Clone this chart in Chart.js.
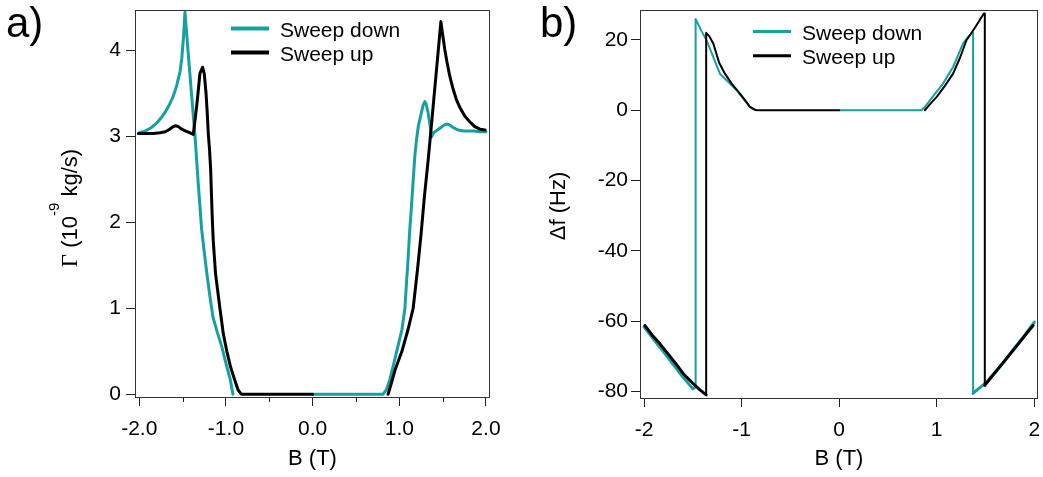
<!DOCTYPE html>
<html>
<head>
<meta charset="utf-8">
<script src="https://cdn.jsdelivr.net/npm/chart.js@4.4.0/dist/chart.umd.min.js"></script>
<style>
  body { margin: 0; background: #fff; }
  #wrap { position: relative; width: 1043px; height: 477px; }
  canvas { position: absolute; top: 0; }
  #chartA { left: 0; }
  #chartB { left: 520px; }
</style>
</head>
<body>
<div id="wrap">
  <canvas id="chartA" width="520" height="477"></canvas>
  <canvas id="chartB" width="523" height="477"></canvas>
</div>
<script>
// Panel a: damping Γ (10^-9 kg/s) against field B (T)
const gammaDownB = [2.00, 1.93, 1.86, 1.80, 1.74, 1.68, 1.62, 1.58, 1.553, 1.52, 1.48, 1.44, 1.41, 1.39, 1.372, 1.355, 1.333, 1.31, 1.295, 1.275,
  1.25, 1.22, 1.20, 1.18, 1.16, 1.14, 1.12, 1.10, 1.08, 1.065, 1.03, 0.97, 0.93, 0.89, 0.85, 0.81, 0.40, 0.00, -0.45,
  -0.92, -0.95, -1.00, -1.05, -1.10, -1.15, -1.18, -1.22, -1.25, -1.28, -1.32, -1.357, -1.40, -1.44, -1.473, -1.49, -1.51,
  -1.53, -1.57, -1.61, -1.65, -1.70, -1.75, -1.80, -1.86, -1.93, -2.00];
const gammaDown = [3.05, 3.05, 3.06, 3.06, 3.06, 3.07, 3.10, 3.13, 3.14, 3.13, 3.10, 3.07, 3.05, 3.03, 2.99, 3.12, 3.27, 3.37, 3.40, 3.36,
  3.25, 3.12, 2.97, 2.78, 2.48, 2.18, 1.90, 1.55, 1.25, 1.00, 0.75, 0.50, 0.33, 0.17, 0.05, 0.00, 0.00, 0.00, null,
  0.00, 0.17, 0.36, 0.56, 0.72, 0.90, 1.10, 1.40, 1.65, 1.91, 2.45, 3.00, 3.52, 4.02, 4.44, 4.15, 3.90,
  3.75, 3.58, 3.46, 3.37, 3.28, 3.21, 3.15, 3.10, 3.06, 3.04];

const gammaUpB = [-2.01, -1.92, -1.84, -1.76, -1.70, -1.65, -1.61, -1.58, -1.55, -1.51, -1.47, -1.42, -1.377, -1.355, -1.33, -1.30, -1.27,
  -1.25, -1.23, -1.215, -1.204, -1.19, -1.177, -1.16, -1.147, -1.12, -1.07, -1.03, -0.99, -0.95, -0.90, -0.86, -0.82, -0.40, 0.00,
  0.45, 0.87, 0.90, 0.95, 1.03, 1.10, 1.16, 1.21, 1.25, 1.29, 1.333, 1.37, 1.41, 1.45, 1.48, 1.50, 1.526, 1.55, 1.584, 1.62,
  1.66, 1.70, 1.757, 1.81, 1.87, 1.93, 1.99];
const gammaUp = [3.03, 3.03, 3.03, 3.04, 3.05, 3.08, 3.11, 3.12, 3.11, 3.08, 3.06, 3.04, 3.02, 3.20, 3.42, 3.73, 3.80,
  3.72, 3.50, 3.25, 3.03, 2.85, 2.62, 2.10, 1.79, 1.40, 1.00, 0.70, 0.50, 0.33, 0.17, 0.05, 0.00, 0.00, 0.00,
  null, 0.00, 0.10, 0.28, 0.50, 0.75, 1.00, 1.45, 1.85, 2.30, 2.72, 3.12, 3.56, 4.00, 4.33, 4.18, 4.00, 3.86, 3.69, 3.55,
  3.42, 3.33, 3.23, 3.17, 3.11, 3.08, 3.07];

// Panel b: frequency shift Δf (Hz) against field B (T)
const shiftDownB = [2.00, 1.90, 1.80, 1.68, 1.60, 1.51, 1.45, 1.40, 1.373, 1.373, 1.35, 1.31, 1.27, 1.22, 1.168, 1.10, 1.066, 1.00,
  0.93, 0.88, 0.844, 0.40, 0.00, -0.40, -0.846, -0.88, -0.915, -0.98, -1.05, -1.13, -1.222, -1.274, -1.32, -1.359, -1.41,
  -1.471, -1.471, -1.50, -1.55, -1.60, -1.70, -1.80, -1.90, -2.00];
const shiftDown = [-60.2, -64.0, -67.5, -71.8, -74.5, -77.3, -78.7, -79.8, -80.5, 22.0, 21.7, 20.4, 19.0, 15.7, 12.3, 9.2, 7.6, 5.3,
  2.8, 1.0, 0.0, 0.0, 0.0, null, 0.0, 0.3, 0.94, 3.2, 5.7, 7.9, 10.4, 14.0, 17.2, 19.9, 22.5,
  25.9, -78.6, -79.2, -77.5, -75.9, -72.3, -68.7, -65.2, -61.6];

const shiftUpB = [-1.99, -1.92, -1.837, -1.75, -1.67, -1.598, -1.50, -1.43, -1.363, -1.363, -1.33, -1.29, -1.23, -1.171, -1.10, -1.017,
  -0.95, -0.915, -0.86, -0.81, -0.40, 0.00, 0.40, 0.878, 0.95, 1.00, 1.08, 1.168, 1.24, 1.305, 1.40, 1.483, 1.493, 1.493,
  1.55, 1.65, 1.75, 1.85, 1.92, 1.988];
const shiftUp = [-61.2, -63.8, -66.4, -69.4, -72.2, -74.9, -77.6, -79.4, -80.9, 22.0, 21.0, 19.0, 13.5, 10.4, 7.5, 4.75,
  2.3, 0.94, 0.1, 0.0, 0.0, 0.0, null, 0.0, 2.3, 3.8, 6.8, 10.4, 15.0, 19.9, 23.8, 27.5, 27.5, -78.2,
  -76.2, -72.8, -69.4, -66.0, -63.5, -61.2];

// Tick values
const fieldTicksA = [-2, -1, 0, 1, 2];
const fieldMinorA = [-1.5, -0.5, 0.5, 1.5];
const gammaTicks = [0, 1, 2, 3, 4];
const fieldTicksB = [-2, -1, 0, 1, 2];
const shiftTicks = [-80, -60, -40, -20, 0, 20];

const FONT = '"Liberation Sans", Arial, Helvetica, sans-serif';
const TEAL = '#17a0a0';

const points = (xs, ys) => xs.map((x, i) => ({ x: x, y: ys[i] }));

// Frame, minor ticks, legend, axis titles and panel letter
const decorations = {
  id: 'decorations',
  afterDraw(chart, args, opts) {
    const ctx = chart.ctx;
    const area = chart.chartArea;
    const xScale = chart.scales.x;
    ctx.save();

    ctx.strokeStyle = '#333';
    ctx.lineWidth = 1;
    ctx.strokeRect(area.left - 0.5, area.top + 0.5, area.right - area.left + 1, area.bottom - area.top);

    ctx.strokeStyle = '#222';
    (opts.minorTicks || []).forEach((v) => {
      const px = Math.round(xScale.getPixelForValue(v)) + 0.5;
      ctx.beginPath();
      ctx.moveTo(px, area.bottom);
      ctx.lineTo(px, area.bottom + 5);
      ctx.stroke();
    });

    // legend
    const lg = opts.legend;
    ctx.textBaseline = 'alphabetic';
    chart.data.datasets.forEach((ds, i) => {
      const y = lg.y + i * lg.dy;
      ctx.strokeStyle = ds.borderColor;
      ctx.lineWidth = lg.lineWidth;
      ctx.beginPath();
      ctx.moveTo(lg.x, y);
      ctx.lineTo(lg.x + lg.len, y);
      ctx.stroke();
      ctx.fillStyle = '#000';
      ctx.font = '21px ' + FONT;
      ctx.fillText(ds.label, lg.textX, y + 8);
    });

    // panel letter
    ctx.font = '42px ' + FONT;
    ctx.fillText(opts.panel.text, opts.panel.x, opts.panel.y);

    // x title
    ctx.font = '22px ' + FONT;
    ctx.textAlign = 'center';
    ctx.fillText(opts.xTitle, (area.left + area.right) / 2, 465);
    ctx.textAlign = 'left';

    // y title, rotated, with optional superscript pieces
    const yt = opts.yTitle;
    ctx.translate(yt.x, yt.y);
    ctx.rotate(-Math.PI / 2);
    let total = 0;
    yt.parts.forEach((p) => { ctx.font = p.font; total += ctx.measureText(p.text).width; });
    let pos = -total / 2;
    yt.parts.forEach((p) => {
      ctx.font = p.font;
      ctx.fillText(p.text, pos, -(p.rise || 0));
      pos += ctx.measureText(p.text).width;
    });
    ctx.restore();
  }
};

function xAxis(min, max, ticks, height, fmt) {
  return {
    type: 'linear',
    min: min,
    max: max,
    afterBuildTicks: (s) => { s.ticks = ticks.map((v) => ({ value: v })); },
    afterFit: (s) => { s.height = height; s.paddingLeft = 0; s.paddingRight = 0; },
    border: { display: false },
    grid: { drawOnChartArea: false, tickLength: 9, color: '#222' },
    ticks: { color: '#000', font: { family: FONT, size: 21 }, padding: 11, maxRotation: 0, autoSkip: false, callback: fmt },
  };
}

function yAxis(min, max, ticks, width, pad) {
  return {
    type: 'linear',
    min: min,
    max: max,
    afterBuildTicks: (s) => { s.ticks = ticks.map((v) => ({ value: v })); },
    afterFit: (s) => { s.width = width; s.paddingTop = 0; s.paddingBottom = 0; },
    border: { display: false },
    grid: { drawOnChartArea: false, tickLength: 10, color: '#222' },
    ticks: { color: '#000', font: { family: FONT, size: 21 }, padding: pad, autoSkip: false, callback: (v) => String(v) },
  };
}

function line(label, xs, ys, color, width, order) {
  return {
    label: label,
    data: points(xs, ys),
    borderColor: color,
    backgroundColor: color,
    borderWidth: width,
    pointRadius: 0,
    tension: 0,
    spanGaps: false,
    borderJoinStyle: 'round',
    borderCapStyle: 'round',
    order: order,
  };
}

// in panel b the low-lying branches are drawn a bit heavier
const heavyLow = (ctx) => (ctx.p0.parsed.y < -50 && ctx.p1.parsed.y < -50 ? 3 : 2);

const downB = line('Sweep down', shiftDownB, shiftDown, TEAL, 2, 1);
const upB = line('Sweep up', shiftUpB, shiftUp, '#000', 2, 0);
downB.segment = { borderWidth: heavyLow };
upB.segment = { borderWidth: heavyLow };

new Chart(document.getElementById('chartA'), {
  type: 'line',
  plugins: [decorations],
  data: {
    datasets: [
      line('Sweep down', gammaDownB, gammaDown, TEAL, 3, 1),
      line('Sweep up', gammaUpB, gammaUp, '#000', 3, 0),
    ],
  },
  options: {
    responsive: false,
    animation: false,
    layout: { padding: { left: 0, top: 10, right: 31, bottom: 0 } },
    plugins: {
      legend: { display: false },
      tooltip: { enabled: false },
      decorations: {
        minorTicks: fieldMinorA,
        legend: { x: 231, y: 28.5, dy: 24, len: 38, lineWidth: 4, textX: 280 },
        panel: { text: 'a)', x: 6, y: 37 },
        xTitle: 'B (T)',
        yTitle: {
          x: 77, y: 208,
          parts: [
            { text: 'Γ', font: '23px "Liberation Serif", serif' },
            { text: ' (10', font: '22px ' + FONT },
            { text: '-9', font: '15px ' + FONT, rise: 18 },
            { text: ' kg/s)', font: '22px ' + FONT },
          ],
        },
      },
    },
    scales: {
      x: xAxis(-2.038, 2.035, fieldTicksA, 80, (v) => Number(v).toFixed(1)),
      y: yAxis(-0.031, 4.465, gammaTicks, 136, 5),
    },
  },
});

new Chart(document.getElementById('chartB'), {
  type: 'line',
  plugins: [decorations],
  data: { datasets: [downB, upB] },
  options: {
    responsive: false,
    animation: false,
    layout: { padding: { left: 0, top: 10, right: 6, bottom: 0 } },
    plugins: {
      legend: { display: false },
      tooltip: { enabled: false },
      decorations: {
        minorTicks: [],
        legend: { x: 233, y: 31.5, dy: 24.3, len: 38, lineWidth: 3, textX: 282 },
        panel: { text: 'b)', x: 20, y: 37 },
        xTitle: 'B (T)',
        yTitle: {
          x: 45, y: 206,
          parts: [{ text: 'Δf (Hz)', font: '22px ' + FONT }],
        },
      },
    },
    scales: {
      x: xAxis(-2.031, 2.028, fieldTicksB, 79, (v) => String(v)),
      y: yAxis(-81.8, 28.5, shiftTicks, 121, 3),
    },
  },
});
</script>
</body>
</html>
